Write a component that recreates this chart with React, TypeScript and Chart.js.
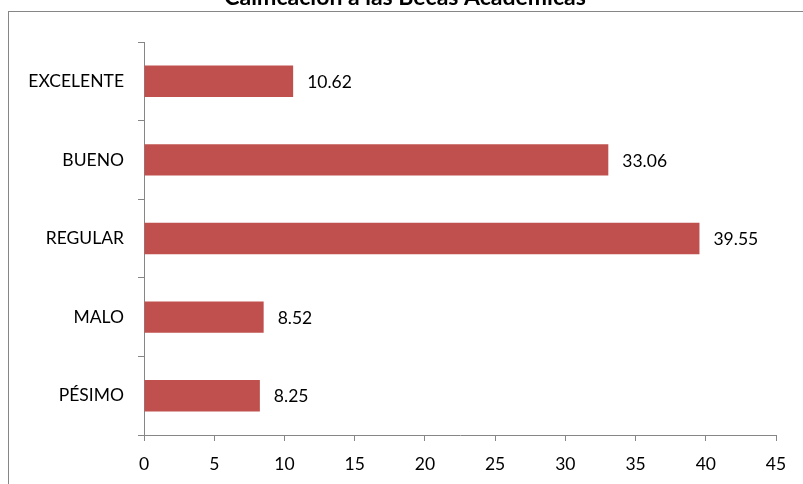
import React, { useEffect, useRef } from "react";
import { Chart, registerables } from "chart.js";

Chart.register(...registerables);

const TITLE = "Calificación a las Becas Académicas";
const categories = ["EXCELENTE", "BUENO", "REGULAR", "MALO", "PÉSIMO"];
const values = [10.62, 33.06, 39.55, 8.52, 8.25];
const xMin = 0;
const xMax = 45;
const xStep = 5;

const FONT = "Lato, 'Open Sans', sans-serif";
const GRAY = "#868686";
const FS = 17.5;

export default function App() {
  const ref = useRef<HTMLCanvasElement | null>(null);

  useEffect(() => {
    if (!ref.current) return;
    const framePlugin = {
      id: "frame",
      beforeDraw(chart: any) {
        const ctx = chart.ctx;
        ctx.save();
        ctx.fillStyle = "#ffffff";
        ctx.fillRect(0, 0, chart.width, chart.height);
        ctx.strokeStyle = GRAY;
        ctx.lineWidth = 1;
        ctx.strokeRect(8.5, 11.5, 900, 600);
        ctx.fillStyle = "#000000";
        ctx.font = `bold 23px ${FONT}`;
        ctx.textAlign = "center";
        ctx.textBaseline = "alphabetic";
        ctx.fillText(TITLE, 405, 5);
        ctx.restore();
      },
    };
    const labelPlugin = {
      id: "valueLabels",
      afterDatasetsDraw(chart: any) {
        const ctx = chart.ctx;
        const meta = chart.getDatasetMeta(0);
        ctx.save();
        ctx.fillStyle = "#000000";
        ctx.font = `${FS}px ${FONT}`;
        ctx.textAlign = "left";
        ctx.textBaseline = "middle";
        meta.data.forEach((bar: any, i: number) => {
          ctx.fillText(values[i].toFixed(2), bar.x + 14, bar.y + 1);
        });
        ctx.restore();
      },
    };
    const chart = new Chart(ref.current, {
      type: "bar",
      data: {
        labels: categories,
        datasets: [
          {
            data: values,
            backgroundColor: "#C0504D",
            borderWidth: 0,
            categoryPercentage: 0.4,
            barPercentage: 1,
          },
        ],
      },
      options: {
        indexAxis: "y",
        responsive: false,
        animation: false,
        layout: { padding: { top: 42, right: 27, left: 0, bottom: 0 } },
        plugins: {
          legend: { display: false },
          tooltip: { enabled: false },
          title: { display: false },
        },
        scales: {
          x: {
            min: xMin,
            max: xMax,
            ticks: {
              stepSize: xStep,
              color: "#000000",
              font: { family: FONT, size: FS },
              padding: 13,
            },
            grid: {
              drawOnChartArea: false,
              drawTicks: true,
              tickLength: 6,
              color: GRAY,
            },
            border: { display: true, color: GRAY },
            afterFit(scale: any) {
              scale.height = 49;
            },
          },
          y: {
            ticks: {
              color: "#000000",
              font: { family: FONT, size: FS },
              padding: 14,
            },
            grid: {
              drawOnChartArea: false,
              drawTicks: true,
              tickLength: 6,
              color: GRAY,
              offset: true,
            },
            border: { display: true, color: GRAY },
            afterFit(scale: any) {
              scale.width = 144;
            },
          },
        },
      },
      plugins: [framePlugin, labelPlugin],
    });
    return () => chart.destroy();
  }, []);

  return (
    <canvas
      ref={ref}
      width={803}
      height={484}
      style={{ position: "fixed", left: 0, top: 0, width: 803, height: 484 }}
    />
  );
}
